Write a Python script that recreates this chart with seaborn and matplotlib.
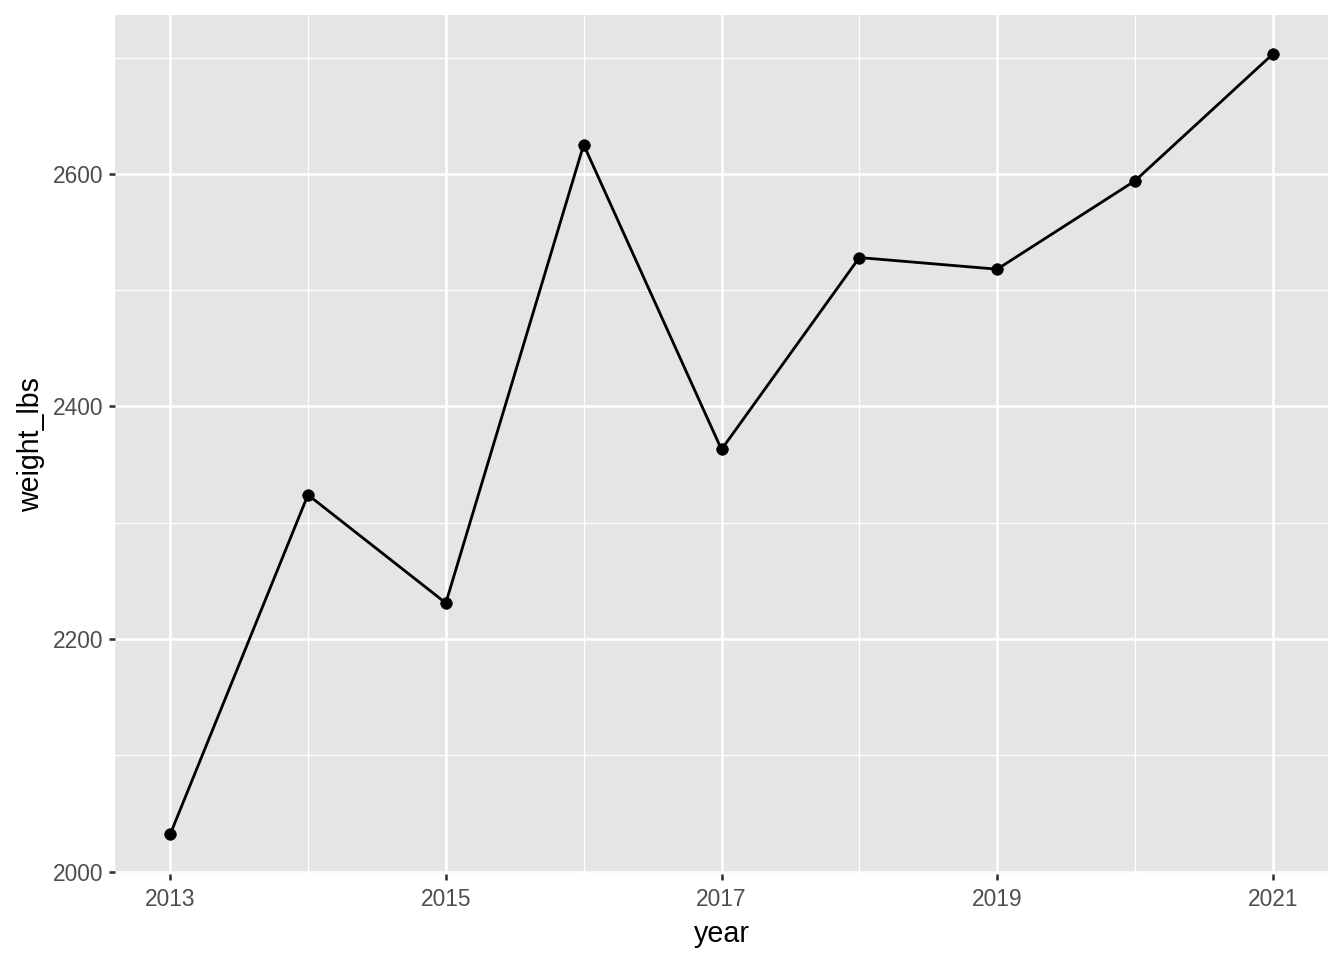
import matplotlib.pyplot as plt
import seaborn as sns
import numpy as np
import pandas as pd
from matplotlib.ticker import MultipleLocator

# values
years = [2013, 2014, 2015, 2016, 2017, 2018, 2019, 2020, 2021]
weight_lbs = [2032, 2324, 2231, 2625, 2363, 2528, 2518, 2594, 2703]

df = pd.DataFrame({"year": years, "weight_lbs": weight_lbs})

sns.set_style("darkgrid", {"axes.facecolor": "#E5E5E5", "grid.color": "white"})
plt.rcParams["font.family"] = ["Liberation Sans", "DejaVu Sans"]

fig = plt.figure(figsize=(1344 / 144, 960 / 144), dpi=144)
ax = fig.add_axes([115 / 1344, 1 - 873.5 / 960, (1328 - 115) / 1344, (873.5 - 15) / 960])

sns.lineplot(data=df, x="year", y="weight_lbs", color="black", linewidth=1.4, ax=ax)
sns.scatterplot(data=df, x="year", y="weight_lbs", color="black", s=34, edgecolor="black",
                linewidth=0.3, ax=ax, zorder=3)

# ggplot-style 5% expansion
xr = max(years) - min(years)
yr = max(weight_lbs) - min(weight_lbs)
ax.set_xlim(min(years) - 0.05 * xr, max(years) + 0.05 * xr)
ax.set_ylim(min(weight_lbs) - 0.05 * yr, max(weight_lbs) + 0.05 * yr)

ax.xaxis.set_major_locator(MultipleLocator(2))
ax.xaxis.set_minor_locator(MultipleLocator(1))
ax.yaxis.set_major_locator(MultipleLocator(200))
ax.yaxis.set_minor_locator(MultipleLocator(100))
ax.set_xticks([2013, 2015, 2017, 2019, 2021])

ax.grid(which="major", color="white", linewidth=1.3)
ax.grid(which="minor", color="white", linewidth=0.65)
ax.set_axisbelow(True)
for s in ax.spines.values():
    s.set_visible(False)

ax.tick_params(axis="both", which="major", length=3.2, width=1.3, color="#333333",
               labelcolor="#4D4D4D", labelsize=11.4, pad=2.5, left=True, bottom=True)
ax.tick_params(axis="x", which="major", pad=4)
ax.tick_params(axis="both", which="minor", length=0)

ax.set_xlabel("year", fontsize=14.3, color="black", labelpad=4.5)
ax.set_ylabel("weight_lbs", fontsize=14.3, color="black", labelpad=4)

plt.savefig("out.png", dpi=144)
plt.close()
